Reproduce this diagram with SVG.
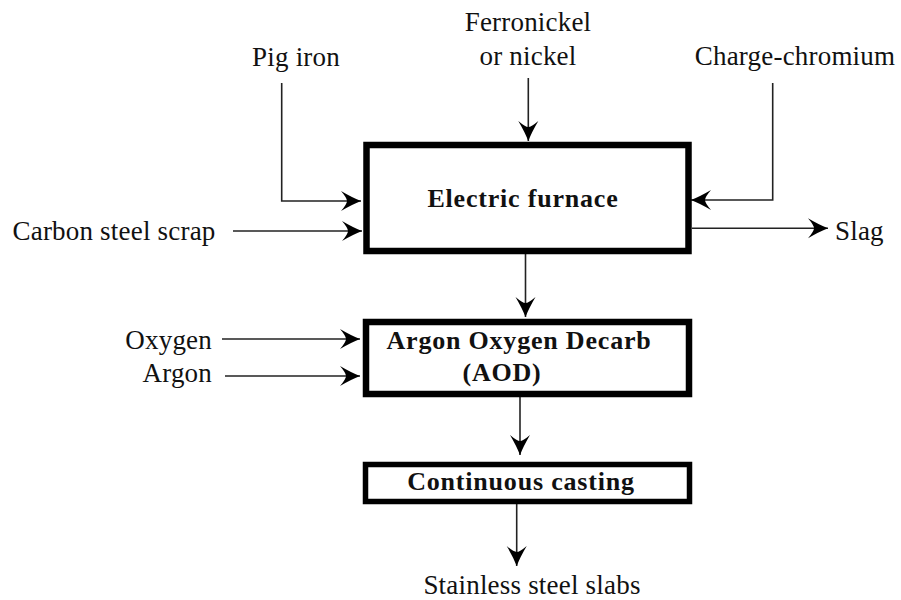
<svg xmlns="http://www.w3.org/2000/svg" width="901" height="600" viewBox="0 0 901 600">
<style>
.lbl{font-family:"Liberation Serif","Times New Roman",serif;font-size:27px;fill:#111;letter-spacing:0.2px;}
.bold{font-family:"Liberation Serif","Times New Roman",serif;font-size:26px;font-weight:bold;fill:#111;letter-spacing:0.8px;}
.box{fill:#fff;stroke:#000;}
.conn{fill:none;stroke:#222;stroke-width:1.6;}
</style>
<defs>
<marker id="arr" markerUnits="userSpaceOnUse" markerWidth="24" markerHeight="24" viewBox="-22 -12 24 24" refX="0" refY="0" orient="auto">
<path d="M0,0 Q-9,-3.5 -20,-10 Q-14,-3 -14,0 Q-14,3 -20,10 Q-9,3.5 0,0 Z" fill="#000"/>
</marker>
</defs>
<rect width="901" height="600" fill="#fff"/>

<g id="connectors">
<path class="conn" d="M281.7,83 V201 H361" marker-end="url(#arr)"/>
<path class="conn" d="M233,231 H362" marker-end="url(#arr)"/>
<path class="conn" d="M528.3,78 V141" marker-end="url(#arr)"/>
<path class="conn" d="M772.7,83 V200 H691" marker-end="url(#arr)"/>
<path class="conn" d="M692,228.3 H828" marker-end="url(#arr)"/>
<path class="conn" d="M525.5,254 V317" marker-end="url(#arr)"/>
<path class="conn" d="M222,339 H360" marker-end="url(#arr)"/>
<path class="conn" d="M225,376 H360" marker-end="url(#arr)"/>
<path class="conn" d="M520,397 V455" marker-end="url(#arr)"/>
<path class="conn" d="M516.7,504 V566" marker-end="url(#arr)"/>
</g>

<g id="node-pig-iron"><text class="lbl" x="296" y="66" text-anchor="middle">Pig iron</text></g>
<g id="node-ferronickel">
<text class="lbl" x="528" y="31" text-anchor="middle">Ferronickel</text>
<text class="lbl" x="528" y="65" text-anchor="middle">or nickel</text>
</g>
<g id="node-charge-chromium"><text class="lbl" x="795" y="65" text-anchor="middle">Charge-chromium</text></g>
<g id="node-carbon-steel-scrap"><text class="lbl" x="114" y="240" text-anchor="middle">Carbon steel scrap</text></g>
<g id="node-slag"><text class="lbl" x="835" y="240">Slag</text></g>

<g id="node-electric-furnace">
<rect class="box" x="366.5" y="145" width="322" height="106" stroke-width="6.5"/>
<text class="bold" x="523" y="207" text-anchor="middle">Electric furnace</text>
</g>

<g id="node-oxygen"><text class="lbl" x="212" y="349" text-anchor="end">Oxygen</text></g>
<g id="node-argon"><text class="lbl" x="212" y="382" text-anchor="end">Argon</text></g>

<g id="node-aod">
<rect class="box" x="366" y="322" width="323" height="72" stroke-width="6.5"/>
<text class="bold" x="519" y="349" text-anchor="middle">Argon Oxygen Decarb</text>
<text class="bold" x="502" y="381" text-anchor="middle">(AOD)</text>
</g>

<g id="node-continuous-casting">
<rect class="box" x="365.5" y="464.5" width="324" height="37" stroke-width="5.5"/>
<text class="bold" x="521" y="490" text-anchor="middle">Continuous casting</text>
</g>

<g id="node-stainless-steel-slabs"><text class="lbl" x="532" y="594" text-anchor="middle">Stainless steel slabs</text></g>
</svg>
